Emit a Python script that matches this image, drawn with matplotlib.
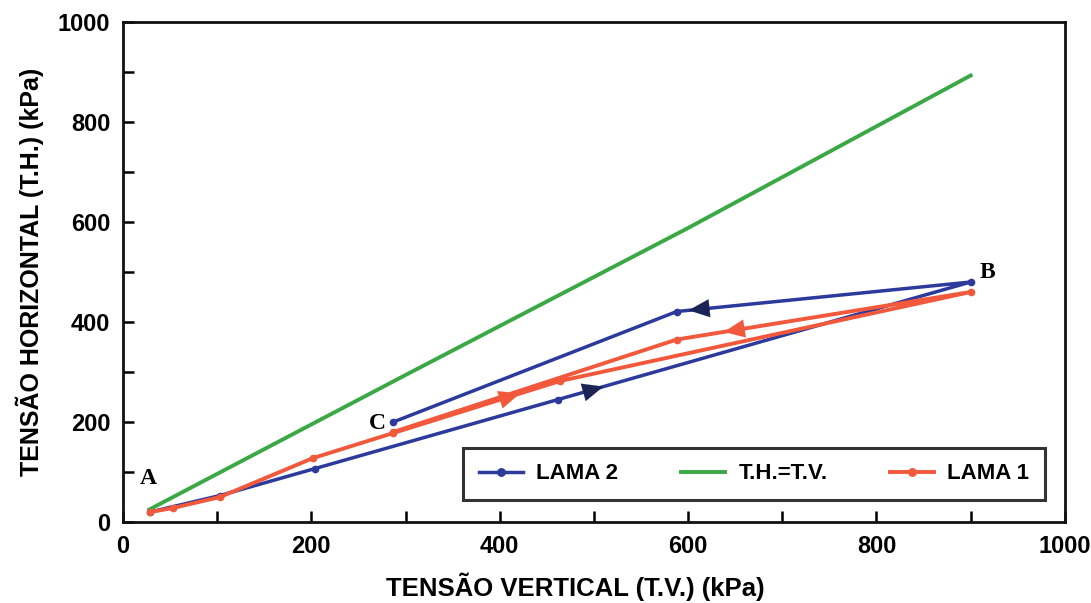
import numpy as np
import matplotlib
matplotlib.use("Agg")
import matplotlib.pyplot as plt

# LAMA 2 (blue): loading A -> B, then unloading B -> C
lama2_x = [29, 103, 204, 462, 900, 588, 287]
lama2_y = [20, 53, 107, 245, 480, 421, 200]

# LAMA 1 (red): loading A -> B', then unloading
lama1_x = [29, 53, 103, 202, 287, 464, 900, 588, 287]
lama1_y = [20, 28, 50, 128, 178, 282, 460, 365, 180]

# T.H. = T.V. reference line
thtv_x = [28, 300, 600, 900]
thtv_y = [25, 294, 588, 893]

# arrow positions: (segment index, fraction along segment)
lama2_arrows = [(3, 0.07), (4, 0.92)]
lama1_arrows = [(4, 0.72), (6, 0.80)]

point_labels = ["A", "B", "C"]
point_label_x = [27, 918, 270]
point_label_y = [88, 500, 198]

blue = "#2c3a9c"
blue_dark = "#1c2356"
green = "#3aa845"
red = "#f2583c"

plt.rcParams['font.family'] = ['Liberation Sans', 'DejaVu Sans']
plt.rcParams['font.weight'] = 'bold'

fig = plt.figure(figsize=(10.91, 6.03), dpi=100)
ax = fig.add_axes([0.1127, 0.1343, 0.8633, 0.8292])

l2, = ax.plot(lama2_x, lama2_y, color=blue, lw=2.5, marker='o', ms=4.5, label='LAMA 2')
g, = ax.plot(thtv_x, thtv_y, color=green, lw=2.8, label='T.H.=T.V.')
l1, = ax.plot(lama1_x, lama1_y, color=red, lw=2.8, marker='o', ms=4.5, label='LAMA 1')


def add_arrows(xs, ys, arrows, col):
    for seg, frac in arrows:
        x0, y0 = xs[seg], ys[seg]
        x1, y1 = xs[seg + 1], ys[seg + 1]
        xm = x0 + frac * (x1 - x0)
        ym = y0 + frac * (y1 - y0)
        dx = (x1 - x0) * 0.04
        dy = (y1 - y0) * 0.04
        ax.annotate('', xy=(xm + dx, ym + dy), xytext=(xm - dx, ym - dy),
                    arrowprops=dict(arrowstyle='-|>,head_length=1.5,head_width=0.65',
                                    color=col, lw=0.1, shrinkA=0, shrinkB=0))


add_arrows(lama2_x, lama2_y, lama2_arrows, blue_dark)
add_arrows(lama1_x, lama1_y, lama1_arrows, red)

for t, x, y in zip(point_labels, point_label_x, point_label_y):
    ax.text(x, y, t, family='Liberation Serif', fontsize=17, fontweight='bold',
            ha='center', va='center')

ax.set_xlim(0, 1000)
ax.set_ylim(0, 1000)
ax.set_xticks(np.arange(0, 1001, 200))
ax.set_yticks(np.arange(0, 1001, 200))
ax.set_xticks(np.arange(0, 1001, 100), minor=True)
ax.set_yticks(np.arange(0, 1001, 100), minor=True)
ax.tick_params(which='both', direction='in', length=8, width=1.8, labelsize=17, pad=9)
for lab in ax.get_xticklabels() + ax.get_yticklabels():
    lab.set_fontweight('bold')
for s in ax.spines.values():
    s.set_linewidth(2)
    s.set_color('#111111')

ax.set_xlabel('TENSÃO VERTICAL (T.V.) (kPa)', fontsize=18.5, fontweight='bold', va='center')
ax.xaxis.set_label_coords(0.48, -0.13)
ax.set_ylabel('TENSÃO HORIZONTAL (T.H.) (kPa)', fontsize=18, fontweight='bold', labelpad=10)

leg = ax.legend(handles=[l2, g, l1], ncol=3, loc='lower right',
                bbox_to_anchor=(0.979, 0.044), borderaxespad=0, frameon=True, fancybox=False,
                edgecolor='black', fontsize=16, handlelength=2.0, handletextpad=0.6,
                columnspacing=2.8, borderpad=0.7, markerscale=1.2)
leg.get_frame().set_linewidth(2.2)
for t in leg.get_texts():
    t.set_fontweight('bold')

fig.savefig('out.png', dpi=100)
